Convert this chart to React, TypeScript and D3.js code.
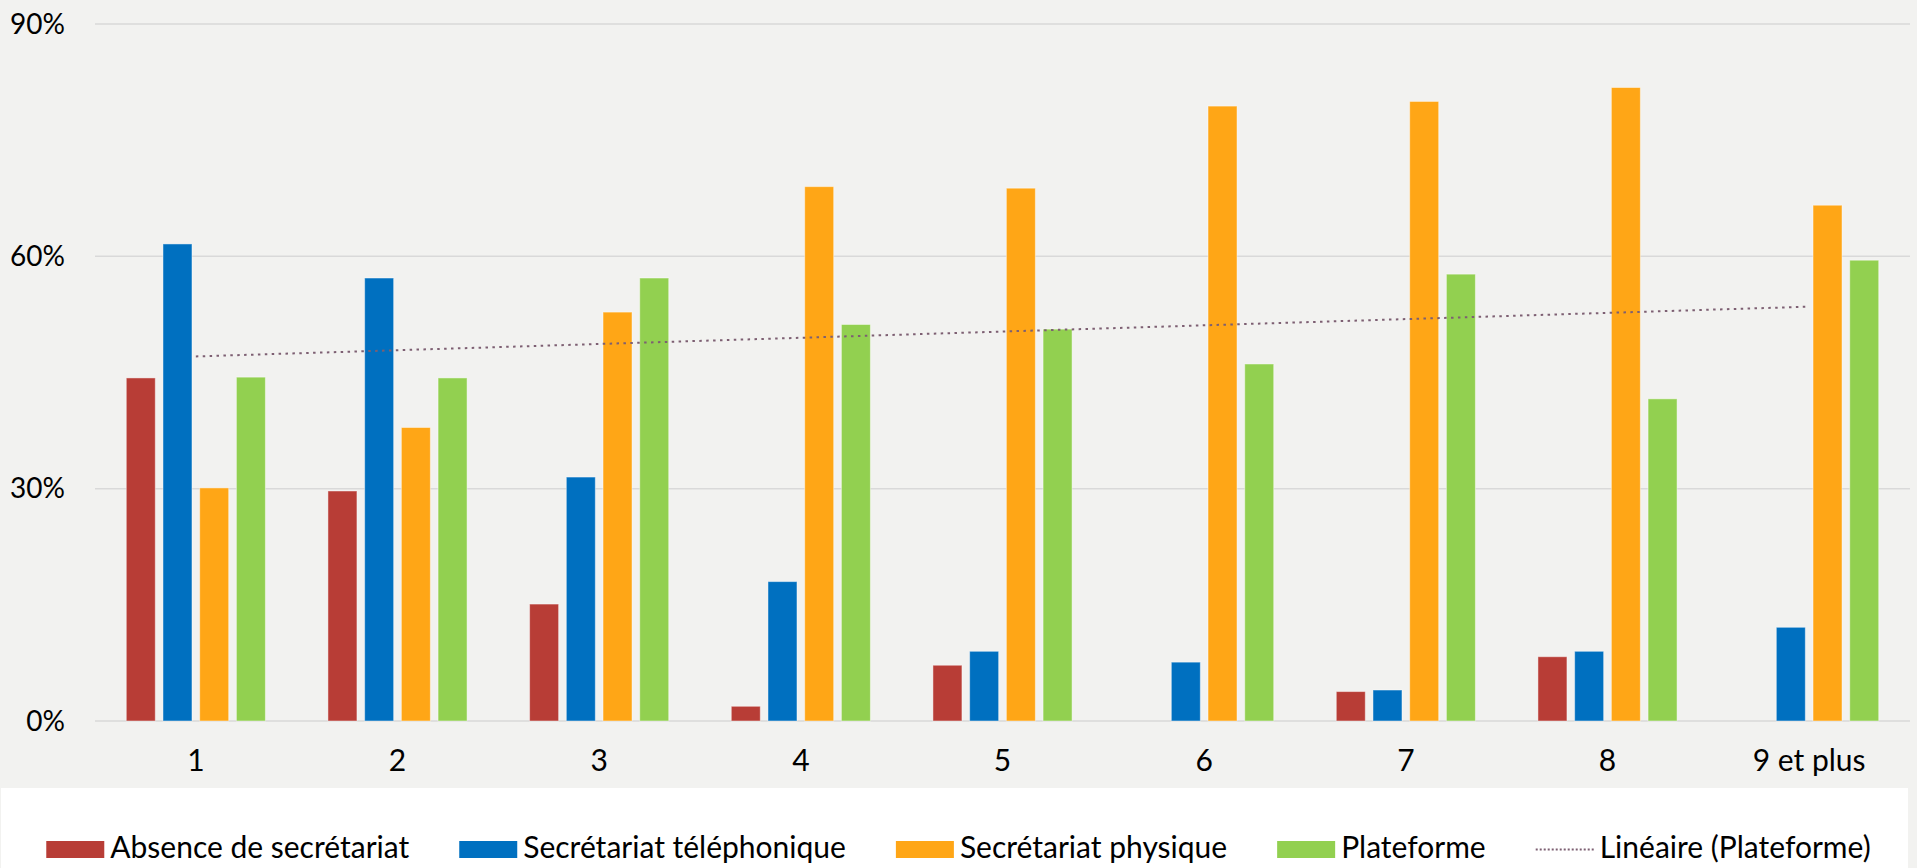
import React, { useLayoutEffect, useRef } from 'react';
import * as d3 from 'd3';

const categories = ['1', '2', '3', '4', '5', '6', '7', '8', '9 et plus'];

const seriesNames = [
  'Absence de secrétariat',
  'Secrétariat téléphonique',
  'Secrétariat physique',
  'Plateforme',
];

// values in % (null = no bar)
const absence = [44.3, 29.7, 15.1, 1.9, 7.2, null, 3.8, 8.3, null];
const telephonique = [61.6, 57.2, 31.5, 18.0, 9.0, 7.6, 4.0, 9.0, 12.1];
const physique = [30.1, 37.9, 52.8, 69.0, 68.8, 79.4, 80.0, 81.8, 66.6];
const plateforme = [44.4, 44.3, 57.2, 51.2, 50.6, 46.1, 57.7, 41.6, 59.5];

const yTicks = [0, 30, 60, 90];
const trendLabel = 'Linéaire (Plateforme)';

const colors = ['#b83d36', '#0070c0', '#ffa616', '#92d050'];
const trendColor = '#7d5f72';

const W = 1917;
const H = 868;
const margin = { top: 24, bottom: 147, left: 95, right: 7 };
const font = 'Lato, "Open Sans", sans-serif';

const chart = (container: SVGSVGElement) => {
  const svg = d3.select(container);
  svg.selectAll('*').remove();

  const values = [absence, telephonique, physique, plateforme];

  svg.append('rect').attr('width', W).attr('height', H).attr('fill', '#f2f2f0');
  svg
    .append('rect')
    .attr('x', 1)
    .attr('y', 788)
    .attr('width', 1907)
    .attr('height', H - 788)
    .attr('fill', '#ffffff');

  const x0 = d3
    .scaleBand<string>()
    .domain(categories)
    .range([margin.left, W - margin.right]);
  const groupW = x0.bandwidth() * 0.728;
  const x1 = d3
    .scaleBand<string>()
    .domain(seriesNames)
    .range([-groupW / 2, groupW / 2])
    .paddingInner(0.21)
    .paddingOuter(0.105);
  const y = d3
    .scaleLinear()
    .domain([0, 90])
    .range([H - margin.bottom, margin.top]);

  // gridlines
  svg
    .append('g')
    .selectAll('line')
    .data(yTicks)
    .join('line')
    .attr('x1', margin.left)
    .attr('x2', W - margin.right)
    .attr('y1', (d) => y(d))
    .attr('y2', (d) => y(d))
    .attr('stroke', '#d9d9d9')
    .attr('stroke-width', 1.5);

  // y labels
  svg
    .append('g')
    .selectAll('text')
    .data(yTicks)
    .join('text')
    .attr('x', 65)
    .attr('y', (d) => y(d))
    .attr('dy', '0.35em')
    .attr('text-anchor', 'end')
    .attr('font-family', font)
    .attr('font-size', 28)
    .attr('fill', '#000')
    .text((d) => `${d}%`);

  // x labels
  svg
    .append('g')
    .selectAll('text')
    .data(categories)
    .join('text')
    .attr('x', (d) => (x0(d) || 0) + x0.bandwidth() / 2)
    .attr('y', 771)
    .attr('text-anchor', 'middle')
    .attr('font-family', font)
    .attr('font-size', 30)
    .attr('fill', '#000')
    .text((d) => d);

  // bars
  const bars = svg.append('g');
  seriesNames.forEach((name, si) => {
    const data = categories
      .map((c, i) => ({ c, v: values[si][i] }))
      .filter((d) => d.v !== null) as { c: string; v: number }[];
    bars
      .append('g')
      .selectAll('rect')
      .data(data)
      .join('rect')
      .attr('x', (d) => (x0(d.c) || 0) + x0.bandwidth() / 2 + (x1(name) || 0))
      .attr('y', (d) => y(d.v))
      .attr('width', x1.bandwidth())
      .attr('height', (d) => y(0) - y(d.v))
      .attr('fill', colors[si])
      .attr('stroke', 'rgba(255,255,255,0.45)')
      .attr('stroke-width', 1);
  });

  // linear trend of Plateforme
  const xs = plateforme.map((_, i) => i + 1);
  const mx = d3.mean(xs) || 0;
  const my = d3.mean(plateforme) || 0;
  const slope =
    d3.sum(xs, (xv, i) => (xv - mx) * (plateforme[i] - my)) /
    d3.sum(xs, (xv) => (xv - mx) ** 2);
  const intercept = my - slope * mx;
  const trendPts = [1, categories.length].map((k) => ({
    x: (x0(categories[k - 1]) || 0) + x0.bandwidth() / 2,
    y: y(intercept + slope * k),
  }));
  svg
    .append('path')
    .attr(
      'd',
      d3
        .line<{ x: number; y: number }>()
        .x((d) => d.x)
        .y((d) => d.y)(trendPts),
    )
    .attr('fill', 'none')
    .attr('stroke', trendColor)
    .attr('stroke-width', 2)
    .attr('stroke-dasharray', '2.5 4.4');

  // legend
  const legend = svg.append('g');
  const items = [...seriesNames, trendLabel];
  const swW = 58;
  const swGap = 6;
  const itemGap = 50;
  const texts = items.map((t) =>
    legend
      .append('text')
      .attr('y', 858)
      .attr('font-family', font)
      .attr('font-size', 30)
      .attr('fill', '#000')
      .text(t),
  );
  const widths = texts.map((t) => (t.node() as SVGTextElement).getComputedTextLength());
  const total =
    d3.sum(widths) + items.length * (swW + swGap) + (items.length - 1) * itemGap;
  let cx = (W - total) / 2;
  items.forEach((_, i) => {
    if (i < seriesNames.length) {
      legend
        .append('rect')
        .attr('x', cx)
        .attr('y', 841)
        .attr('width', swW)
        .attr('height', 17)
        .attr('fill', colors[i]);
    } else {
      legend
        .append('line')
        .attr('x1', cx)
        .attr('x2', cx + swW)
        .attr('y1', 849.5)
        .attr('y2', 849.5)
        .attr('stroke', trendColor)
        .attr('stroke-width', 2)
        .attr('stroke-dasharray', '2 2');
    }
    texts[i].attr('x', cx + swW + swGap);
    cx += swW + swGap + widths[i] + itemGap;
  });
};

export default function App() {
  const ref = useRef<SVGSVGElement>(null);

  useLayoutEffect(() => {
    if (ref.current) chart(ref.current);
  }, []);

  return (
    <svg
      ref={ref}
      width={W}
      height={H}
      style={{ position: 'absolute', left: 0, top: 0, display: 'block' }}
    />
  );
}
